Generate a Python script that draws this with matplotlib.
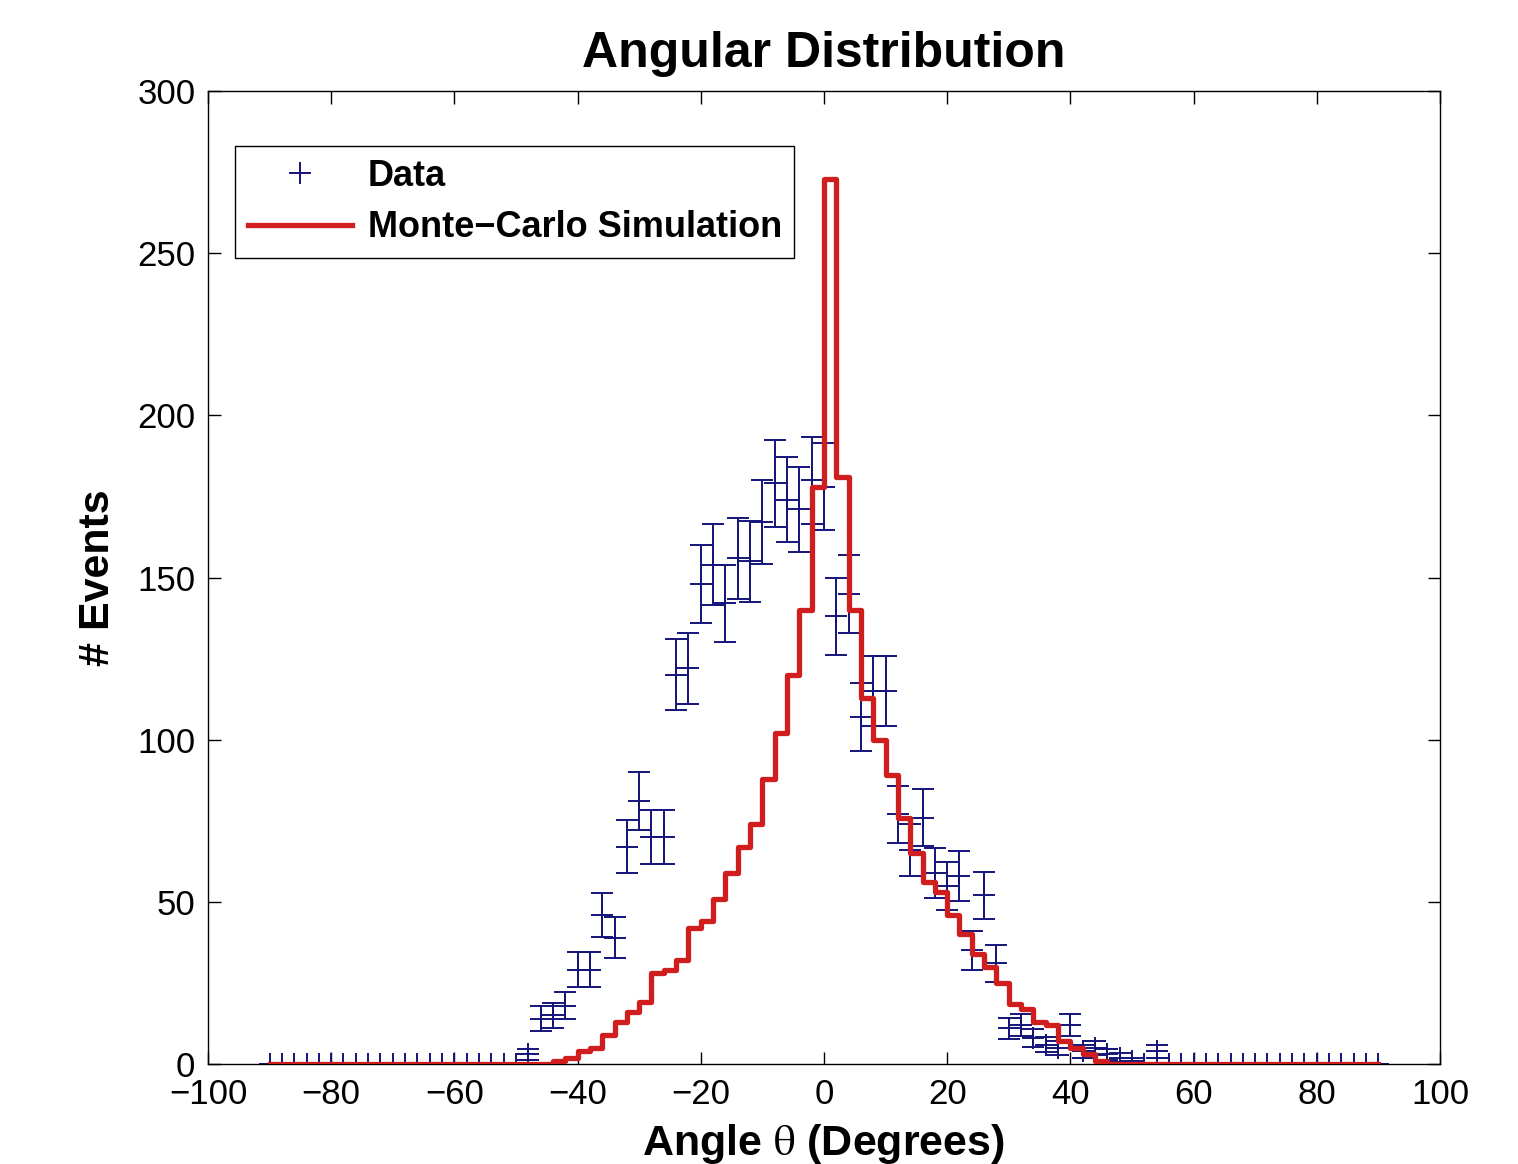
import numpy as np
import matplotlib
matplotlib.use("Agg")
import matplotlib.pyplot as plt
from matplotlib.lines import Line2D

plt.rcParams['font.family'] = ['Liberation Sans', 'DejaVu Sans']
plt.rcParams['mathtext.fontset'] = 'stix'

# bin centres, 2 degree spacing
angle = np.arange(-90, 91, 2)

# measured event counts (non-zero part from -48 to 54 deg)
data_x = [-48, -46, -44, -42, -40, -38, -36, -34, -32, -30, -28, -26, -24, -22,
          -20, -18, -16, -14, -12, -10, -8, -6, -4, -2, 0, 2, 4, 6, 8, 10, 12,
          14, 16, 18, 20, 22, 24, 26, 28, 30, 32, 34, 36, 38, 40, 42, 44, 46,
          48, 50, 52, 54]
data_n = [3, 14, 15, 18, 29, 29, 46, 39, 67, 81, 70, 70, 120, 122,
          148, 154, 142, 156, 155, 167, 179, 174, 171, 180, 178, 138, 145, 107, 115, 115, 77,
          66, 76, 59, 55, 58, 35, 52, 31, 11, 12, 8, 6, 5, 12, 4, 5, 3,
          2, 1, 0, 4]

# Monte-Carlo histogram (stairs levels starting at each centre)
mc_x = [-44, -42, -40, -38, -36, -34, -32, -30, -28, -26, -24, -22, -20, -18,
        -16, -14, -12, -10, -8, -6, -4, -2, 0, 2, 4, 6, 8, 10, 12, 14, 16, 18,
        20, 22, 24, 26, 28, 30, 32, 34, 36, 38, 40, 42, 44]
mc_n = [1, 2, 4, 5, 9, 13, 16, 19, 28, 29, 32, 42, 44, 51,
        59, 67, 74, 88, 102, 120, 140, 178, 273, 181, 140, 113, 100, 89, 76, 65, 56, 53,
        46, 40, 34, 30, 25, 18.5, 17, 13, 12, 7, 5, 3, 1]

counts = np.zeros(len(angle))
for x, n in zip(data_x, data_n):
    counts[angle == x] = n
mc = np.zeros(len(angle))
for x, n in zip(mc_x, mc_n):
    mc[angle == x] = n

navy = '#14147a'
red = '#d01e1e'

fig = plt.figure(figsize=(15.18, 11.64), dpi=100)
ax = fig.add_axes([0.137, 0.0859, 0.8116, 0.8359])

nz = counts > 0
ax.errorbar(angle[nz], counts[nz], yerr=np.sqrt(counts[nz]), fmt='+', color=navy,
            ecolor=navy, elinewidth=1.4, capsize=8, capthick=1.4,
            markersize=16, markeredgewidth=1.4, zorder=2)
ax.plot(angle[~nz], counts[~nz], ls='none', marker='+', color=navy,
        markersize=16, markeredgewidth=1.4, zorder=2)
ax.step(angle, mc, where='post', color=red, lw=3.8, zorder=3)

ax.set_xlim(-100, 100)
ax.set_ylim(0, 300)
ax.set_xticks(np.arange(-100, 101, 20))
ax.set_yticks(np.arange(0, 301, 50))
ax.tick_params(direction='in', top=True, right=True, length=9, width=1,
               labelsize=25)
ax.tick_params(axis='x', pad=10)
ax.tick_params(axis='y', pad=9)
for s in ax.spines.values():
    s.set_linewidth(1.0)

ax.set_title('Angular Distribution', fontsize=36, fontweight='bold', pad=17)
ax.set_xlabel(r'Angle $\mathrm{\theta}$ (Degrees)', fontsize=31, fontweight='bold', labelpad=8)
ax.set_ylabel('# Events', fontsize=31, fontweight='bold', labelpad=14)

handles = [Line2D([], [], ls='none', marker='+', color=navy, markersize=16, markeredgewidth=1.4),
           Line2D([], [], color=red, lw=3.8)]
leg = ax.legend(handles, ['Data', 'Monte\u2212Carlo Simulation'],
                loc='upper left', bbox_to_anchor=(0.022, 0.943), borderaxespad=0,
                prop={'size': 26, 'weight': 'bold'}, fancybox=False, framealpha=1,
                edgecolor='black', handlelength=2.9, handletextpad=0.42,
                borderpad=0.35, labelspacing=0.45)
leg.get_frame().set_linewidth(1.0)

fig.savefig('out.png', dpi=100)
